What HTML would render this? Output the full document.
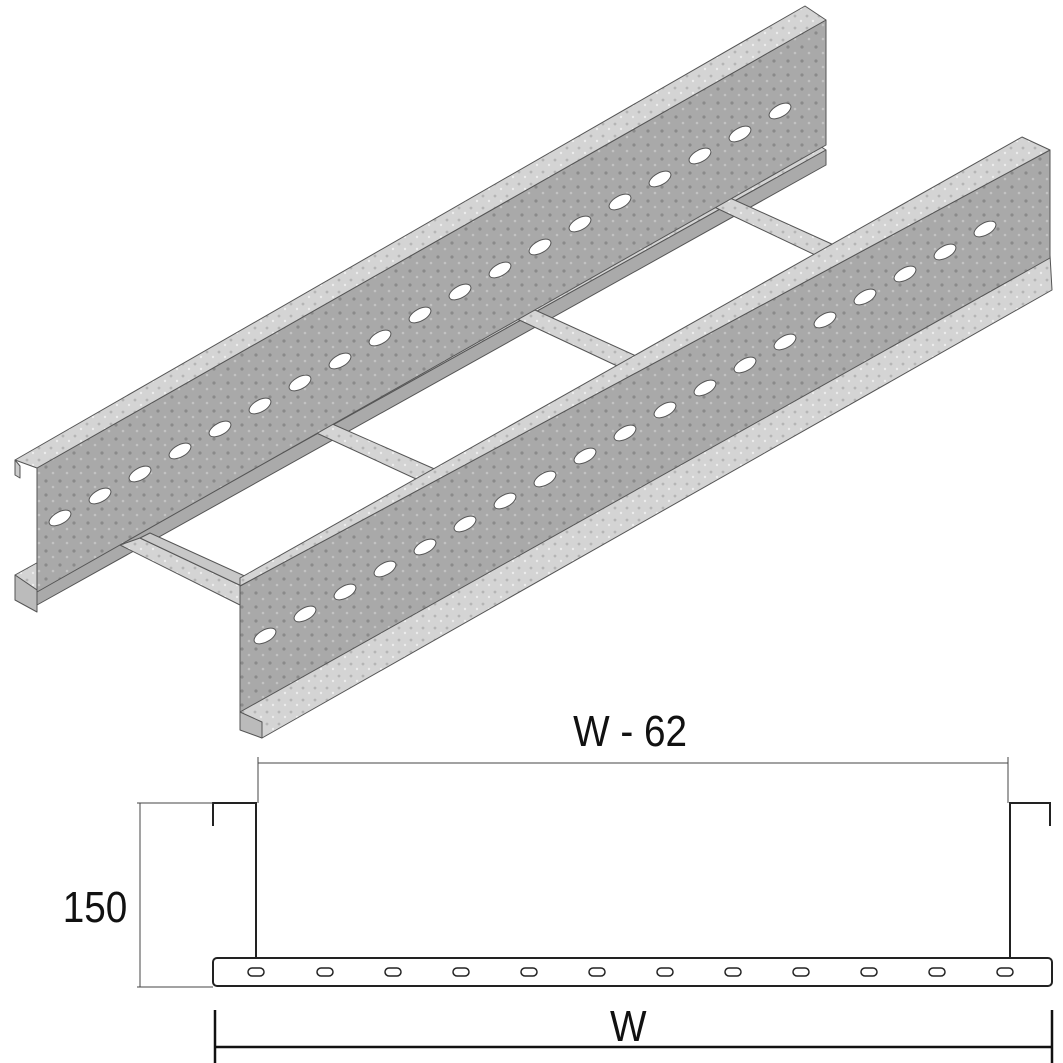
<!DOCTYPE html>
<html><head><meta charset="utf-8"><style>
html,body{margin:0;padding:0;background:#fff;width:1063px;height:1063px;overflow:hidden}
</style></head><body>
<svg width="1063" height="1063" viewBox="0 0 1063 1063" xmlns="http://www.w3.org/2000/svg">
<defs>
<pattern id="sp" width="14" height="14" patternUnits="userSpaceOnUse">
<rect width="14" height="14" fill="#a9a9a9"/><circle cx="4" cy="5" r="1.6" fill="#8a8a8a"/><circle cx="11" cy="11" r="1.3" fill="#c2c2c2"/>
</pattern>
<pattern id="sl" width="12" height="12" patternUnits="userSpaceOnUse">
<rect width="12" height="12" fill="#d4d4d4"/><circle cx="3" cy="4" r="1.4" fill="#b5b5b5"/><circle cx="9" cy="9" r="1.2" fill="#ececec"/>
</pattern>
</defs>
<g stroke="#555" stroke-width="1" stroke-linejoin="round">
<polygon points="15,575 37,590 826,150 806,137" fill="url(#sl)"/>
<polygon points="15,575 15,600 37,612 37,590" fill="#bbb"/>
<polygon points="37,590 826,150 826,165 37,605" fill="#aaa"/>
<polygon points="120,545 140,538 250,590 240,605" fill="url(#sl)"/>
<polygon points="140,538 150,533 258,582 250,590" fill="#c8c8c8"/>
<polygon points="310,430 330,423 455,478 440,490" fill="url(#sl)"/>
<polygon points="515,318 535,310 645,360 630,372" fill="url(#sl)"/>
<polygon points="710,205 730,198 845,250 830,262" fill="url(#sl)"/>
<polygon points="37,468 826,20 826,145 37,592" fill="url(#sp)"/>
<polygon points="15,460 805,6 826,20 37,468" fill="url(#sl)"/>
<polygon points="15,460 15,475 20,478 20,466" fill="#ccc"/>
<polygon points="240,706 1050,255 1052,290 262,738 240,728" fill="url(#sl)"/>
<polygon points="240,586 1050,150 1050,258 240,712" fill="url(#sp)"/>
<polygon points="240,578 1022,137 1050,150 240,586" fill="url(#sl)"/>
<polygon points="240,712 240,730 262,738 262,722" fill="#bbb"/>
</g>
<g fill="#fff" stroke="#555" stroke-width="1">
<g id="lh">
<ellipse cx="60" cy="518" rx="12" ry="6" transform="rotate(-29 60 518)"/>
<ellipse cx="100" cy="496" rx="12" ry="6" transform="rotate(-29 100 496)"/>
<ellipse cx="140" cy="474" rx="12" ry="6" transform="rotate(-29 140 474)"/>
<ellipse cx="180" cy="451" rx="12" ry="6" transform="rotate(-29 180 451)"/>
<ellipse cx="220" cy="429" rx="12" ry="6" transform="rotate(-29 220 429)"/>
<ellipse cx="260" cy="406" rx="12" ry="6" transform="rotate(-29 260 406)"/>
<ellipse cx="300" cy="383" rx="12" ry="6" transform="rotate(-29 300 383)"/>
<ellipse cx="340" cy="361" rx="12" ry="6" transform="rotate(-29 340 361)"/>
<ellipse cx="380" cy="338" rx="12" ry="6" transform="rotate(-29 380 338)"/>
<ellipse cx="420" cy="315" rx="12" ry="6" transform="rotate(-29 420 315)"/>
<ellipse cx="460" cy="292" rx="12" ry="6" transform="rotate(-29 460 292)"/>
<ellipse cx="500" cy="270" rx="12" ry="6" transform="rotate(-29 500 270)"/>
<ellipse cx="540" cy="247" rx="12" ry="6" transform="rotate(-29 540 247)"/>
<ellipse cx="580" cy="224" rx="12" ry="6" transform="rotate(-29 580 224)"/>
<ellipse cx="620" cy="202" rx="12" ry="6" transform="rotate(-29 620 202)"/>
<ellipse cx="660" cy="179" rx="12" ry="6" transform="rotate(-29 660 179)"/>
<ellipse cx="700" cy="156" rx="12" ry="6" transform="rotate(-29 700 156)"/>
<ellipse cx="740" cy="134" rx="12" ry="6" transform="rotate(-29 740 134)"/>
<ellipse cx="780" cy="111" rx="12" ry="6" transform="rotate(-29 780 111)"/>
</g>
<g transform="translate(205,118)">
<use href="#lh"/>
</g>
</g>
<g fill="none" stroke="#222" stroke-width="2">
<path d="M213,826 V803 H256 V958"/>
<path d="M1050,826 V803 H1010 V958"/>
<rect x="213" y="958" width="839" height="28" rx="4"/>
</g>
<g fill="none" stroke="#222" stroke-width="1.5">
<rect x="248" y="968" width="16" height="8" rx="4"/><rect x="317" y="968" width="16" height="8" rx="4"/>
<rect x="385" y="968" width="16" height="8" rx="4"/><rect x="453" y="968" width="16" height="8" rx="4"/>
<rect x="521" y="968" width="16" height="8" rx="4"/><rect x="589" y="968" width="16" height="8" rx="4"/>
<rect x="657" y="968" width="16" height="8" rx="4"/><rect x="725" y="968" width="16" height="8" rx="4"/>
<rect x="793" y="968" width="16" height="8" rx="4"/><rect x="861" y="968" width="16" height="8" rx="4"/>
<rect x="929" y="968" width="16" height="8" rx="4"/><rect x="997" y="968" width="16" height="8" rx="4"/>
</g>
<g stroke="#444" stroke-width="1">
<line x1="258" y1="763" x2="1008" y2="763"/>
<line x1="258" y1="757" x2="258" y2="803"/>
<line x1="1008" y1="757" x2="1008" y2="803"/>
<line x1="137" y1="803" x2="213" y2="803"/>
<line x1="137" y1="987" x2="213" y2="987"/>
<line x1="140" y1="803" x2="140" y2="987"/>
</g>
<g stroke="#111" stroke-width="2.5">
<line x1="215" y1="1047" x2="1052" y2="1047"/>
<line x1="215" y1="1010" x2="215" y2="1063"/>
<line x1="1052" y1="1010" x2="1052" y2="1063"/>
</g>
<g font-family="Liberation Sans, sans-serif" font-size="44" fill="#111" text-anchor="middle" transform="scale(0.88,1)">
<text x="716" y="746">W - 62</text>
<text x="108" y="922">150</text>
<text x="714" y="1041">W</text>
</g>
</svg>
</body></html>
